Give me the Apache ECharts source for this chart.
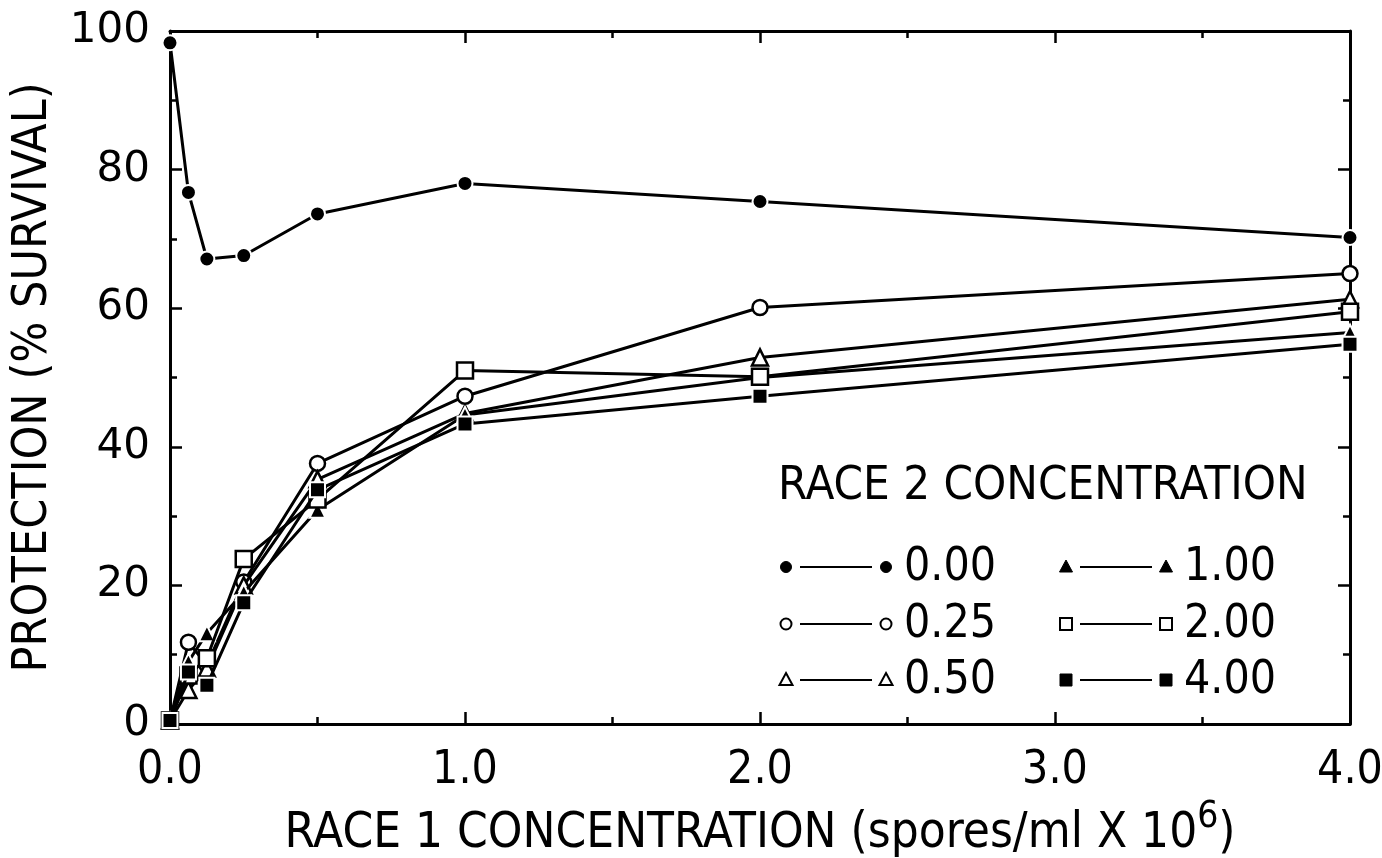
<!DOCTYPE html>
<html><head><meta charset="utf-8">
<script src="https://cdn.jsdelivr.net/npm/echarts@6/dist/echarts.min.js"></script>
<style>html,body{margin:0;padding:0;background:#fff}#c{width:1382px;height:858px}</style>
</head><body><div id="c"></div>
<script>
// ---- data ----
const race1 = [0, 0.0625, 0.125, 0.25, 0.5, 1, 2, 4];
const race2Labels = ['0.00', '0.25', '0.50', '1.00', '2.00', '4.00'];
const s000 = [98.3, 76.7, 67.1, 67.6, 73.6, 78.0, 75.4, 70.2];
const s025 = [0.5, 11.8, 8.5, 20.5, 37.6, 47.3, 60.1, 65.0];
const s050 = [0.5, 4.9, 8.0, 20.0, 35.3, 44.8, 52.9, 61.3];
const s100 = [0.5, 9.0, 13.1, 19.0, 30.9, 44.6, 50.0, 56.5];
const s200 = [0.5, 7.0, 9.5, 23.8, 32.4, 51.0, 50.1, 59.5];
const s400 = [0.5, 7.5, 5.6, 17.5, 33.8, 43.3, 47.3, 54.8];
const xTitle = 'RACE 1 CONCENTRATION (spores/ml X 10';
const yTitle = 'PROTECTION (% SURVIVAL)';
const legendTitle = 'RACE 2 CONCENTRATION';

// ---- styles ----
const seriesValues = [s000, s025, s050, s100, s200, s400];
const markers = [
  {sym: 'circle', filled: true, size: 15},
  {sym: 'circle', filled: false, size: 15},
  {sym: 'triangle', filled: false, size: 16},
  {sym: 'triangle', filled: true, size: 16},
  {sym: 'rect', filled: false, size: 16},
  {sym: 'rect', filled: true, size: 15}
];
const narrow = '"DejaVu Sans Condensed", "Liberation Sans Narrow", sans-serif';
const wide = '"DejaVu Sans", sans-serif';

const series = seriesValues.map((vals, i) => ({
  name: race2Labels[i],
  type: 'line',
  xAxisIndex: 0, yAxisIndex: 0,
  data: race1.map((x, j) => [x, vals[j]]),
  symbol: markers[i].sym,
  symbolSize: markers[i].size,
  showAllSymbol: true,
  lineStyle: {color: '#000', width: 3},
  itemStyle: markers[i].filled
    ? {color: '#000', borderColor: '#fff', borderWidth: 2}
    : {color: '#fff', borderColor: '#000', borderWidth: 2.5},
  emphasis: {disabled: true},
  animation: false,
  z: 2 + i
}));

// ---- legend drawn with graphics ----
function legendSym(m, cx, cy) {
  const st = m.filled ? {fill: '#000', stroke: '#000', lineWidth: 1} : {fill: '#fff', stroke: '#000', lineWidth: 2};
  if (m.sym === 'circle') return {type: 'circle', shape: {cx, cy, r: 5.5}, style: st};
  if (m.sym === 'rect') return {type: 'rect', shape: {x: cx - 6, y: cy - 6, width: 12, height: 12}, style: st};
  return {type: 'polygon', shape: {points: [[cx, cy - 7], [cx + 6.5, cy + 5], [cx - 6.5, cy + 5]]}, style: st};
}
const legendEls = [{
  type: 'text', style: {text: legendTitle, x: 778, y: 487, font: '47px ' + narrow, fill: '#000', verticalAlign: 'middle', align: 'left'}
}];
const rowsY = [567, 624, 680];
const colsX = [786, 1066];
race2Labels.forEach((lab, i) => {
  const col = Math.floor(i / 3), row = i % 3;
  const x0 = colsX[col], y = rowsY[row];
  legendEls.push(legendSym(markers[i], x0, y));
  legendEls.push({type: 'line', shape: {x1: x0 + 14, y1: y, x2: x0 + 86, y2: y}, style: {stroke: '#000', lineWidth: 2}});
  legendEls.push(legendSym(markers[i], x0 + 100, y));
  legendEls.push({type: 'text', style: {text: lab, x: x0 + 118, y: y + 1, font: '46px ' + narrow, fill: '#000', verticalAlign: 'middle', align: 'left'}});
});

const baseX = {type: 'value', min: 0, max: 4, interval: 1, splitLine: {show: false},
  axisLine: {show: true, onZero: false, lineStyle: {color: '#000', width: 3}},
  axisTick: {show: true, inside: true, length: 12, lineStyle: {color: '#000', width: 2.5}},
  minorTick: {show: true, splitNumber: 2, length: 7, lineStyle: {color: '#000', width: 2.5}},
  minorSplitLine: {show: false}};
const baseY = {type: 'value', min: 0, max: 100, interval: 20, splitLine: {show: false},
  axisLine: {show: true, onZero: false, lineStyle: {color: '#000', width: 3}},
  axisTick: {show: true, inside: true, length: 12, lineStyle: {color: '#000', width: 2.5}},
  minorTick: {show: true, splitNumber: 2, length: 7, lineStyle: {color: '#000', width: 2.5}},
  minorSplitLine: {show: false}};

const option = {
  backgroundColor: '#fff',
  animation: false,
  grid: {left: 170, right: 32, top: 31, bottom: 134, containLabel: false, outerBoundsMode: 'none'},
  xAxis: [
    Object.assign({}, baseX, {position: 'bottom',
      axisLabel: {show: true, margin: 24, fontSize: 46, fontFamily: narrow, color: '#000', formatter: v => v.toFixed(1)},
      name: '{t|' + xTitle + '}{s|6}{t|)}', nameLocation: 'middle', nameGap: 68,
      nameTextStyle: {rich: {
        t: {fontSize: 49, fontFamily: narrow, color: '#000', verticalAlign: 'bottom', lineHeight: 60},
        s: {fontSize: 37, fontFamily: narrow, color: '#000', verticalAlign: 'top', padding: [0, 0, 26, 0], lineHeight: 60}
      }}}),
    Object.assign({}, baseX, {position: 'top', axisLabel: {show: false}})
  ],
  yAxis: [
    Object.assign({}, baseY, {position: 'left',
      axisLabel: {show: true, margin: 20, fontSize: 42, fontFamily: wide, color: '#000'},
      name: yTitle, nameLocation: 'middle', nameGap: 112,
      nameTextStyle: {fontSize: 48, fontFamily: narrow, color: '#000'}}),
    Object.assign({}, baseY, {position: 'right', axisLabel: {show: false}})
  ],
  series: series,
  graphic: legendEls
};
const chart = echarts.init(document.getElementById('c'), null, {renderer: 'canvas'});
chart.setOption(option);
</script>
</body></html>
